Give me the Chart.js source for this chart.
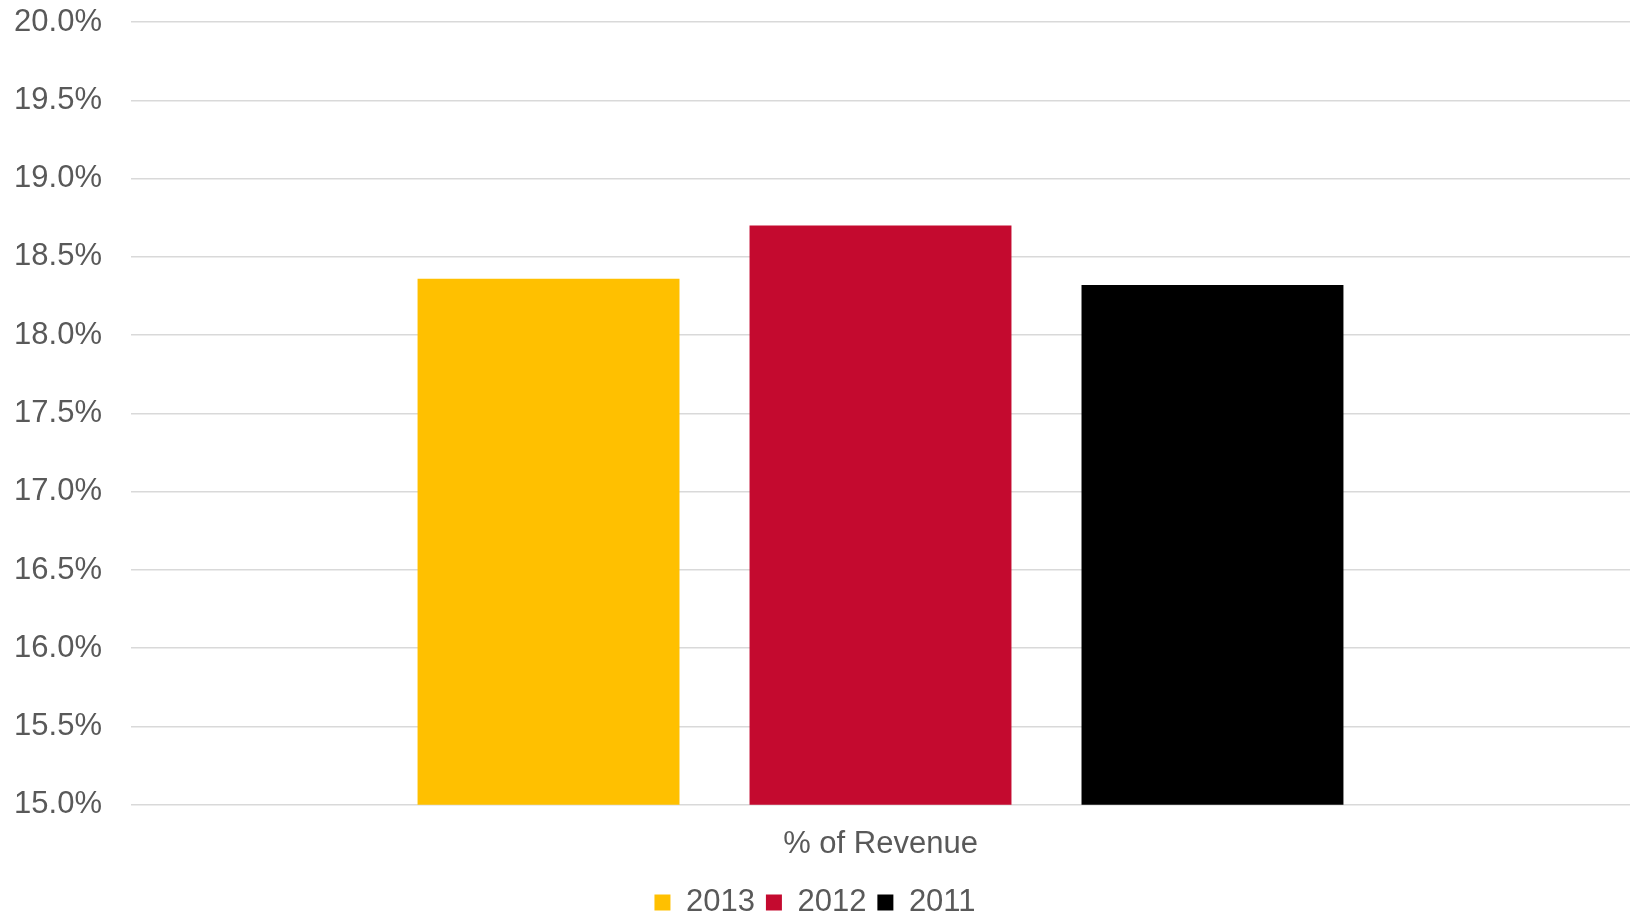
<!DOCTYPE html>
<html>
<head>
<meta charset="utf-8">
<script src="https://cdn.jsdelivr.net/npm/chart.js@4.4.1/dist/chart.umd.min.js"></script>
<style>
  html,body{margin:0;padding:0;background:#fff;}
  #wrap{width:1635px;height:913px;position:relative;}
</style>
</head>
<body>
<div id="wrap"><canvas id="ch-rev"></canvas></div>
<script>
/* ---------- data ---------- */
const categories=['% of Revenue'];
const years=['2013','2012','2011'];
const values2013=[18.36];
const values2012=[18.70];
const values2011=[18.32];
const yearColors=['#FFC000','#C40A2F','#000000'];

const TEXT='#595959';
const GRID='#D9D9D9';
const FONT='"Liberation Sans", Arial, sans-serif';

const seriesValues=[values2013,values2012,values2011];

new Chart(document.getElementById('ch-rev'),{
  type:'bar',
  data:{
    labels:categories,
    datasets:years.map((y,i)=>({
      label:y,
      data:seriesValues[i],
      backgroundColor:yearColors[i],
      borderWidth:0,
      categoryPercentage:0.6644,
      barPercentage:0.789
    }))
  },
  options:{
    responsive:true,
    maintainAspectRatio:false,
    animation:false,
    // legend row sits low, so let its box run a little past the bottom edge
    layout:{padding:{top:22,right:5,left:0,bottom:-15}},
    plugins:{
      legend:{
        position:'bottom',
        labels:{color:TEXT,font:{family:FONT,size:31},boxWidth:16,boxHeight:16,padding:11}
      },
      tooltip:{enabled:false}
    },
    scales:{
      x:{
        grid:{display:false},
        border:{display:false},
        ticks:{color:TEXT,font:{family:FONT,size:31},padding:13}
      },
      y:{
        min:15,max:20,
        // keep the axis a fixed width and let layout.padding set the top edge
        afterFit:s=>{s.width=131;s.paddingTop=0;s.paddingBottom=0;},
        grid:{color:GRID,lineWidth:1.5,drawTicks:false},
        border:{display:false},
        ticks:{stepSize:0.5,color:TEXT,font:{family:FONT,size:31},padding:29,callback:v=>v.toFixed(1)+'%'}
      }
    }
  }
});
</script>
</body>
</html>
